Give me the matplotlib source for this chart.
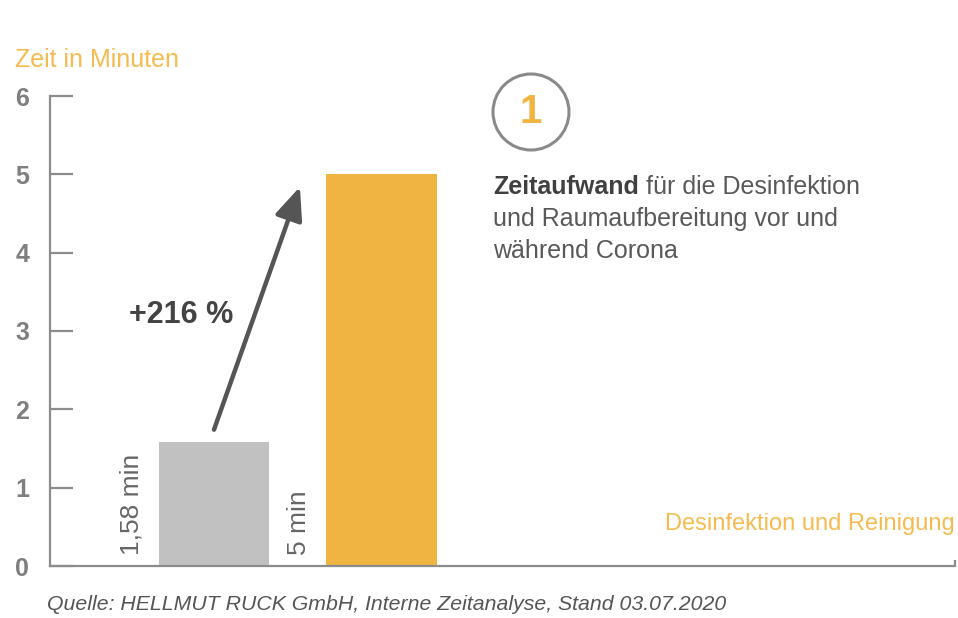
import matplotlib
matplotlib.use("Agg")
import matplotlib.pyplot as plt
from matplotlib.patches import Circle
from matplotlib.transforms import IdentityTransform

# Data
categories = ["vor Corona", "während Corona"]
values = [1.58, 5.0]
value_labels = ["1,58 min", "5 min"]
bar_colors = ["#c1c1c1", "#f0b441"]
yticks = [0, 1, 2, 3, 4, 5, 6]
change_label = "+216 %"

plt.rcParams['font.family'] = ['Liberation Sans', 'DejaVu Sans']

W, H = 958, 618
fig = plt.figure(figsize=(W / 100, H / 100), dpi=100)
ax = fig.add_axes([50 / W, 1 - 566 / H, (955 - 50) / W, (566 - 96) / H])

x = [0, 1]
ax.bar(x, values, width=0.657, color=bar_colors, zorder=2)
ax.set_xlim(-0.979, 4.424)
ax.set_ylim(0, 6)

axis_col = "#8c8c8c"
for s in ["top", "right"]:
    ax.spines[s].set_visible(False)
for s in ["left", "bottom"]:
    ax.spines[s].set_color(axis_col)
    ax.spines[s].set_linewidth(1.6)

ax.set_yticks(yticks)
ax.set_yticklabels([str(t) for t in yticks])
ax.tick_params(axis='y', direction='in', length=16.5, width=1.6, color=axis_col,
               pad=15, labelsize=18, labelcolor="#7f7f7f")
for lab in ax.get_yticklabels():
    lab.set_fontweight('bold')
ax.set_xticks([4.424])
ax.set_xticklabels([""])
ax.tick_params(axis='x', direction='in', length=4, width=1.6, color=axis_col)

# value labels (rotated)
label_offsets = [-0.49, -0.49]
for xi, lab, off in zip(x, value_labels, label_offsets):
    ax.text(xi + off, 0.14, lab, rotation=90, ha='center', va='bottom',
            fontsize=19, color="#666666")

# arrow
ax.annotate("", xy=(0.513, 4.84), xytext=(0.0, 1.74),
            arrowprops=dict(arrowstyle="-|>,head_length=2.0,head_width=0.85",
                            color="#555555", lw=3.2, shrinkA=0, shrinkB=0))
ax.text(-0.505, 3.21, change_label, ha='left', va='center', fontsize=22,
        fontweight='bold', color="#444444")

# titles / texts
fig.text(15 / W, 1 - 60 / H, "Zeit in Minuten", ha='left', va='center',
         fontsize=18, color="#f5bb50")
fig.text(955 / W, 1 - 524 / H, "Desinfektion und Reinigung", ha='right', va='center',
         fontsize=17, color="#f5bb50")
fig.text(47 / W, 1 - 604 / H, "Quelle: HELLMUT RUCK GmbH, Interne Zeitanalyse, Stand 03.07.2020",
         ha='left', va='center', fontsize=15.3, style='italic', color="#555555")

# circle with number
circ = Circle((531, H - 112), 38, transform=IdentityTransform(),
              fill=False, edgecolor="#8a8a8a", lw=2.2)
fig.patches.append(circ)
fig.text(531 / W, 1 - 112 / H, "1", ha='center', va='center', fontsize=29,
         fontweight='bold', color="#f0b441")

fs = 18
t1 = fig.text(493 / W, 1 - 187 / H, "Zeitaufwand", ha='left', va='center',
              fontsize=fs, fontweight='bold', color="#404040")
fig.canvas.draw()
bb = t1.get_window_extent()
fig.text((bb.x1) / W, 1 - 187 / H, " für die Desinfektion", ha='left', va='center',
         fontsize=fs, color="#595959")
fig.text(493 / W, 1 - 219 / H, "und Raumaufbereitung vor und", ha='left', va='center',
         fontsize=fs, color="#595959")
fig.text(493 / W, 1 - 251 / H, "während Corona", ha='left', va='center',
         fontsize=fs, color="#595959")

fig.savefig("out.png", dpi=100)
